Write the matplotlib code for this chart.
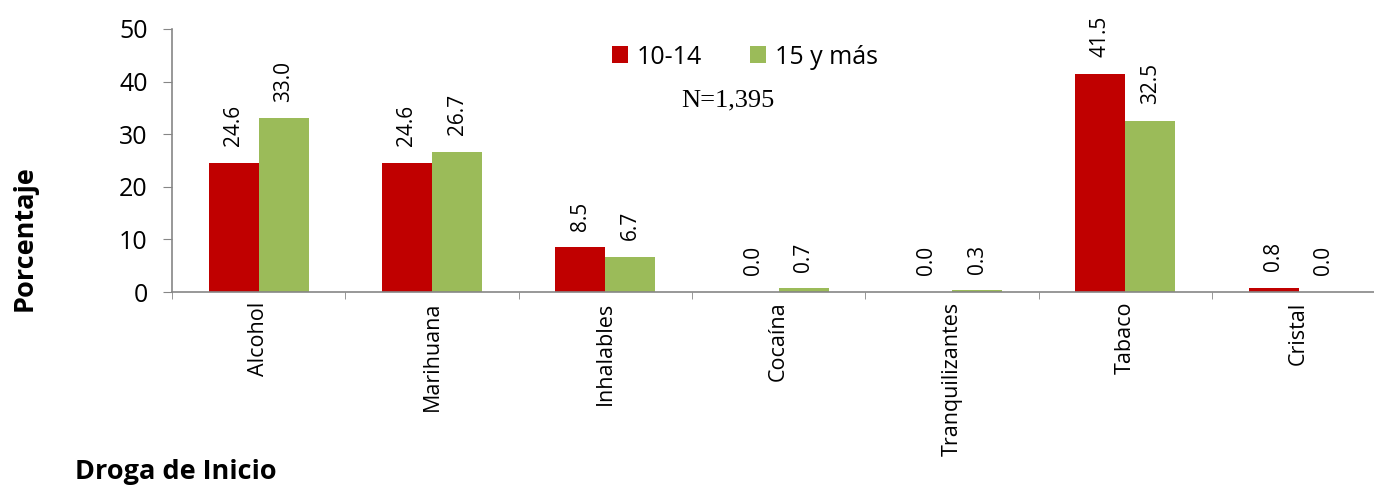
import numpy as np
import matplotlib
matplotlib.use("Agg")
import matplotlib.pyplot as plt

# data
categorias = ["Alcohol", "Marihuana", "Inhalables", "Cocaína",
              "Tranquilizantes", "Tabaco", "Cristal"]
edad_10_14 = [24.6, 24.6, 8.5, 0.0, 0.0, 41.5, 0.8]
edad_15_mas = [33.0, 26.7, 6.7, 0.7, 0.3, 32.5, 0.0]
series_labels = ["10-14", "15 y más"]
y_ticks = [0, 10, 20, 30, 40, 50]

plt.rcParams['font.family'] = ['Open Sans', 'DejaVu Sans']

fig = plt.figure(figsize=(13.74, 4.87), dpi=100)
# the plot area runs a little past the right edge, as in the original
ax = fig.add_axes([0.1252, 0.4004, 0.8830, 0.5401])

x = np.arange(len(categorias))
w = 0.289
rojo = '#C00000'
verde = '#9BBB59'
b1 = ax.bar(x - w / 2, edad_10_14, w, color=rojo, label=series_labels[0])
b2 = ax.bar(x + w / 2, edad_15_mas, w, color=verde, label=series_labels[1])

# value labels, rotated
for bars, vals in ((b1, edad_10_14), (b2, edad_15_mas)):
    for b, v in zip(bars, vals):
        ax.annotate(f"{v:.1f}", (b.get_x() + b.get_width() / 2, v),
                    xytext=(0, 12), textcoords='offset points',
                    rotation=90, ha='center', va='bottom', fontsize=15)

ax.set_xlim(-0.5, len(categorias) - 0.5)
ax.set_ylim(0, 50)
ax.set_yticks(y_ticks)
ax.tick_params(axis='y', labelsize=18, length=6.5, color='#868686', pad=11)

# category labels centred, ticks on the boundaries
ax.set_xticks(x)
ax.set_xticklabels(categorias, rotation=90, fontsize=15.5)
ax.tick_params(axis='x', length=0, pad=7)
ax.set_xticks(np.arange(-0.5, len(categorias)), minor=True)
ax.tick_params(axis='x', which='minor', length=5, color='#868686')

for s in ('top', 'right'):
    ax.spines[s].set_visible(False)
for s in ('left', 'bottom'):
    ax.spines[s].set_color('#868686')
    ax.spines[s].set_linewidth(1.2)

fig.legend(handles=[b1, b2], labels=series_labels, loc='center',
           bbox_to_anchor=(745 / 1374, 1 - 57 / 487), ncol=2, frameon=False,
           fontsize=18, handlelength=0.65, handleheight=0.65, handletextpad=0.35,
           columnspacing=1.9)
fig.text(728 / 1374, 1 - 100 / 487, "N=1,395", fontsize=19, family='Liberation Serif',
         ha='center', va='center')

fig.text(25 / 1374, 1 - 238 / 487, "Porcentaje", rotation=90, fontsize=19.5,
         fontweight='bold', ha='center', va='center')
fig.text(75 / 1374, 1 - 472 / 487, "Droga de Inicio", fontsize=19.5, fontweight='bold',
         ha='left', va='center')

fig.savefig("out.png", dpi=100)
